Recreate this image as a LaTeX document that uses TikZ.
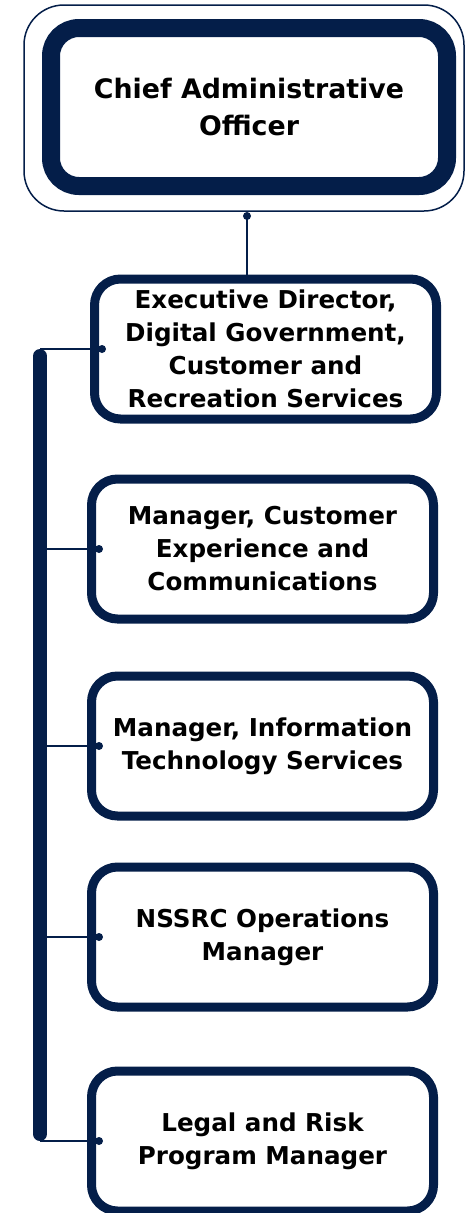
\documentclass[tikz,border=0pt]{standalone}
\usepackage{fontspec}
\setmainfont{DejaVu Sans}
\usepackage{xcolor}
\usepackage{tikz}
\usetikzlibrary{positioning}
\definecolor{navy}{HTML}{041E49}

\begin{document}
\begin{tikzpicture}[
    x=1pt, y=-1pt,
    every node/.style={
        align=center,
        text=black,
        font=\bfseries\fontsize{24.6}{33}\selectfont
    },
    frame/.style={draw=navy, line width=1.5pt, rounded corners=40pt, minimum width=440pt, minimum height=206pt},
    head/.style={draw=navy, fill=white, line width=18pt, rounded corners=28pt, minimum width=396pt, minimum height=158pt, font=\bfseries\fontsize{26.8}{37}\selectfont},
    unit/.style={draw=navy, fill=white, line width=9pt, rounded corners=26pt, minimum width=342pt, minimum height=140pt},
    tie/.style={draw=navy, line width=1.5pt},
    spine/.style={draw=navy, line width=14pt, line cap=round},
    knob/.style={fill=navy}
]
\useasboundingbox (0,0) rectangle (465,1213);

% Top of the chart
\node[frame] (caoframe) at (244,108) {};
\node[head] (cao) at (249,107) {Chief Administrative\\Officer};

% Reporting units
\node[unit] (execdir) at (265.5,349) {Executive Director,\\Digital Government,\\Customer and\\Recreation Services};
\node[unit, below=51pt of execdir, xshift=-3pt] (custexp) {Manager, Customer\\Experience and\\Communications};
\node[unit, below=48pt of custexp] (itserv) {Manager, Information\\Technology Services};
\node[unit, below=42pt of itserv] (nssrc) {NSSRC Operations\\Manager};
\node[unit, below=55pt of nssrc] (legal) {Legal and Risk\\Program Manager};

% Connectors
\coordinate (hub) at (247,216);
\coordinate (spine) at (40,0);
\draw[tie] (hub) -- (hub |- execdir.north);
\fill[knob] (hub) circle (4pt);

\draw[spine] ([yshift=-7pt]spine |- execdir.west) -- ([yshift=7pt]spine |- legal.west);
\foreach \unit in {execdir, custexp, itserv, nssrc, legal} {
    \draw[tie] (spine |- \unit.west) -- (\unit.west);
    \fill[knob] ([xshift=12pt]\unit.west) circle (4pt);
}

\end{tikzpicture}
\end{document}
